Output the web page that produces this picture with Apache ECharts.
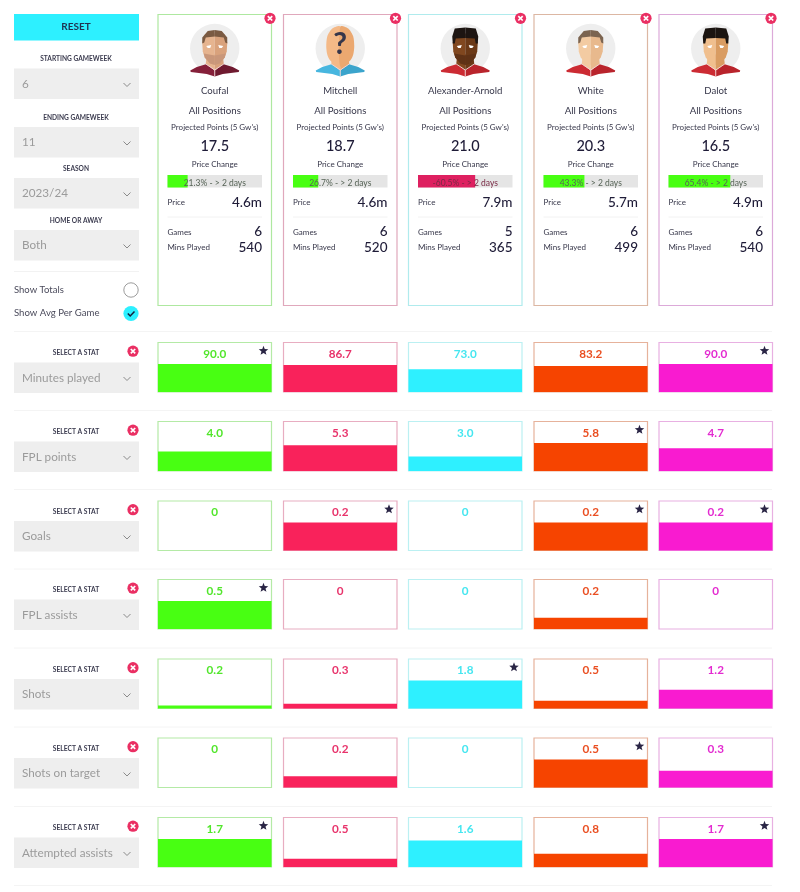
<!DOCTYPE html>
<html>
<head>
<meta charset="utf-8">
<title>Player comparison</title>
<style>
  html, body { margin: 0; padding: 0; background: #fff; }
  #main { width: 800px; height: 892px; }
</style>
<script src="https://cdn.jsdelivr.net/npm/echarts@6/dist/echarts.min.js"></script>
</head>
<body>
<div id="main"></div>
<script>
// data
var players = ['Coufal', 'Mitchell', 'Alexander-Arnold', 'White', 'Dalot'];
var projected = ['17.5', '18.7', '21.0', '20.3', '16.5'];
var priceChange = [21.3, 26.7, -60.5, 43.3, 65.4];
var prices = ['4.6m', '4.6m', '7.9m', '5.7m', '4.9m'];
var games = [6, 6, 5, 6, 6];
var minsPlayed = [540, 520, 365, 499, 540];

var statNames = ['Minutes played', 'FPL points', 'Goals', 'FPL assists', 'Shots', 'Shots on target', 'Attempted assists'];
var minutesPlayed = [90.0, 86.7, 73.0, 83.2, 90.0];
var fplPoints = [4.0, 5.3, 3.0, 5.8, 4.7];
var goals = [0, 0.2, 0, 0.2, 0.2];
var fplAssists = [0.5, 0, 0, 0.2, 0];
var shots = [0.2, 0.3, 1.8, 0.5, 1.2];
var shotsOnTarget = [0, 0.2, 0, 0.5, 0.3];
var attemptedAssists = [1.7, 0.5, 1.6, 0.8, 1.7];
var statRows = [minutesPlayed, fplPoints, goals, fplAssists, shots, shotsOnTarget, attemptedAssists];

var filterLabels = ['STARTING GAMEWEEK', 'ENDING GAMEWEEK', 'SEASON', 'HOME OR AWAY'];
var filterValues = ['6', '11', '2023/24', 'Both'];

// layout and colours
var FONT = 'Lato, sans-serif';
var NAVY = '#2a2545';
var RED = '#ea2f63';
var colLeft = [158, 283.5, 408.5, 534, 659];
var colWidth = 113.5;
var rowTop = [342.5, 421.5, 501, 579.5, 659, 738, 817.5];
var rowHeight = 49.5;
var fillRatio = 0.568;   // the biggest value of a row fills this share of its cell

var barColors = ['#48ff12', '#f9225b', '#2ef0ff', '#f64400', '#f91bd0'];
var textColors = ['#52e62c', '#e8336b', '#45e6f0', '#ea4f22', '#e32bd0'];
var cellBorders = ['#b4eaa6', '#e8adc1', '#bbf0f2', '#e6b29b', '#e8b0e2'];
var cardBorders = ['#aee8a0', '#e0a8bc', '#b0ebed', '#dcb7a3', '#dcaad9'];

var avatars = [
  { skin: '#e6b48f', shade: '#d9a27c', hair: '#7a5a42', beard: '#c9977a', shirt: '#85203a', shirt2: '#6f1a30', head: 'short' },
  { skin: '#f4b987', shade: '#eba870', hair: null, shirt: '#47b6df', shirt2: '#3ba4cc', head: 'unknown' },
  { skin: '#80471f', shade: '#6b3917', hair: '#1d1512', beard: '#5f3216', shirt: '#cc2b33', shirt2: '#b9242c', head: 'flat' },
  { skin: '#f3cba2', shade: '#e8b98d', hair: '#7b6450', shirt: '#cc2b33', shirt2: '#b9242c', head: 'short' },
  { skin: '#f0bf8e', shade: '#d99c62', hair: '#1b1410', shirt: '#cc2b33', shirt2: '#b9242c', head: 'flat' }
];

var graphics = [];

function txt(str, x, y, size, color, align, weight) {
  graphics.push({
    type: 'text', silent: true, z: 10,
    style: {
      text: str, x: x, y: y, fill: color,
      font: (weight || 'normal') + ' ' + size + 'px ' + FONT,
      textAlign: align || 'center', textVerticalAlign: 'middle'
    }
  });
}

function box(x, y, w, h, fill, stroke, lw) {
  graphics.push({
    type: 'rect', silent: true, z: 0,
    shape: { x: x, y: y, width: w, height: h },
    style: { fill: fill || 'none', stroke: stroke || 'none', lineWidth: lw || 0 }
  });
}

function hline(y, x1, x2, color) {
  graphics.push({
    type: 'line', silent: true, z: 0,
    shape: { x1: x1, y1: y, x2: x2, y2: y },
    style: { stroke: color, lineWidth: 1 }
  });
}

function poly(points, fill, z, smooth) {
  graphics.push({
    type: 'polygon', silent: true, z: z || 5,
    shape: { points: points, smooth: smooth || 0 },
    style: { fill: fill }
  });
}

function stroked(points, color, lw, z) {
  graphics.push({
    type: 'polyline', silent: true, z: z || 5,
    shape: { points: points },
    style: { stroke: color, lineWidth: lw, fill: 'none' }
  });
}

function disc(x, y, r, fill, stroke, lw, z) {
  graphics.push({
    type: 'circle', silent: true, z: z || 5,
    shape: { cx: x, cy: y, r: r },
    style: { fill: fill, stroke: stroke || 'none', lineWidth: lw || 0 }
  });
}

function closeIcon(x, y) {
  disc(x, y, 5.6, RED, null, 0, 6);
  stroked([[x - 2.2, y - 2.2], [x + 2.2, y + 2.2]], '#fff', 1.7, 7);
  stroked([[x + 2.2, y - 2.2], [x - 2.2, y + 2.2]], '#fff', 1.7, 7);
}

function dropdown(y, value) {
  box(14, y, 125, 30.5, '#eeeeee');
  txt(value, 22, y + 15.5, 11.7, '#9b9b9b', 'left');
  stroked([[123.5, y + 14.5], [127, y + 18], [130.5, y + 14.5]], '#8a8a8a', 1, 5);
}

function star(cx, cy) {
  var pts = [];
  for (var i = 0; i < 10; i++) {
    var r = i % 2 === 0 ? 5 : 2.1;
    var a = -Math.PI / 2 + i * Math.PI / 5;
    pts.push([cx + r * Math.cos(a), cy + r * Math.sin(a)]);
  }
  poly(pts, NAVY, 11);
}

function mirror(points, cx, cy, flip) {
  return points.map(function(p) {
    return [cx + (flip ? -p[0] : p[0]), cy + p[1]];
  });
}

// flat two tone face, left half then right half
function avatar(cx, cy, a) {
  disc(cx, cy, 24.7, '#eeeeee', null, 0, 1);
  var shirt = [[0, 22], [-8, 15.5], [-18, 18.5], [-24.5, 22], [-24, 23.5], [-8, 25.5], [0, 28]];
  poly(mirror(shirt, cx, cy, false), a.shirt, 2);
  poly(mirror(shirt, cx, cy, true), a.shirt2, 2);
  poly(mirror([[0, 22], [-9, 15.5], [-8, 6], [0, 6]], cx, cy, false), a.skin, 3);
  poly(mirror([[0, 22], [-9, 15.5], [-8, 6], [0, 6]], cx, cy, true), a.shade, 3);
  stroked(mirror([[-9, 15.5], [0, 21.5], [0, 28]], cx, cy, false), '#f0d5d5', 0.9, 4);
  stroked(mirror([[-9, 15.5], [0, 21.5]], cx, cy, true), '#f0d5d5', 0.9, 4);

  if (a.head === 'unknown') {
    var bald = [[0, -22], [-8, -20], [-13, -12], [-14, -2], [-13, 6], [-10, 12], [0, 18]];
    poly(mirror(bald, cx, cy, false), a.skin, 4, 0.25);
    poly(mirror(bald, cx, cy, true), a.shade, 4, 0.25);
    txt('?', cx, cy - 4, 30, '#36364a', 'center', 'bold');
    return;
  }
  var face = [[0, -15], [-10, -14], [-12.5, -6], [-12, 3], [-10, 9], [-5, 15], [0, 16.5]];
  poly(mirror(face, cx, cy, false), a.skin, 4);
  poly(mirror(face, cx, cy, true), a.shade, 4);
  if (a.beard) {
    var jaw = [[0, 7], [-11, 5], [-10, 9], [-5, 15], [0, 16.5]];
    poly(mirror(jaw, cx, cy, false), a.beard, 5);
    poly(mirror(jaw, cx, cy, true), a.beard, 5);
  }
  var hair = a.head === 'flat'
    ? [[0, -21], [-10.5, -20], [-13, -12], [-12.5, -5], [-10.5, -5], [-9.5, -10], [0, -10.5]]
    : [[0, -18.5], [-7, -17.5], [-12.5, -11], [-12.5, -5], [-10.5, -6], [-9, -11], [0, -12]];
  poly(mirror(hair, cx, cy, false), a.hair, 6);
  poly(mirror(hair, cx, cy, true), a.hair, 6);
  poly(mirror([[-8.5, -2.5], [-3.5, -3.5], [-4.5, -0.5], [-7, -0.5]], cx, cy, false), '#ffffff', 6);
  poly(mirror([[-8.5, -2.5], [-3.5, -3.5], [-4.5, -0.5], [-7, -0.5]], cx, cy, true), '#ffffff', 6);
}

// left panel
box(14, 14, 125, 26.5, '#2df0ff');
txt('RESET', 76, 27, 10, '#1f3350', 'center', 'bold');
var filterLabelY = [59, 117.5, 169, 220.5];
var filterBoxY = [68.5, 127, 178, 230];
filterLabels.forEach(function(label, i) {
  txt(label, 76, filterLabelY[i], 6.6, '#3b3b4f', 'center', 'bold');
  dropdown(filterBoxY[i], filterValues[i]);
});
hline(271.5, 14, 139, '#f2f2f2');
txt('Show Totals', 14, 289.5, 9.5, '#4b4b5c', 'left');
disc(131, 290, 7.2, '#fff', '#9c9c9c', 1);
txt('Show Avg Per Game', 14, 312.5, 9.6, '#4b4b5c', 'left');
disc(131, 313.5, 7.6, '#2df0ff');
stroked([[127.8, 313.5], [130.2, 316], [134.5, 311.5]], '#15203a', 1.5, 6);

// separators between the stat rows
[331.5, 410.5, 489.5, 569, 648, 727, 806.5, 885.5].forEach(function(y) {
  hline(y, 14, 772, '#f4f4f4');
});

// player cards
players.forEach(function(name, i) {
  var left = colLeft[i], right = left + colWidth, mid = left + colWidth / 2;
  var inL = left + 9.5, inR = right - 9.5;
  box(left, 14.5, colWidth, 291, 'none', cardBorders[i], 1.2);
  closeIcon(right - 1.5, 18.3);
  avatar(mid, 48.5, avatars[i]);
  txt(name, mid, 91, 9.6, '#37374a');
  txt('All Positions', mid, 110.5, 9.7, '#37374a');
  txt("Projected Points (5 Gw's)", mid, 127.5, 8, '#37374a');
  txt(projected[i], mid, 146, 14.5, '#1f1c38', 'center', '500');
  txt('Price Change', mid, 164.5, 8, '#37374a');
  txt(priceChange[i] + '% - > 2 days', mid, 183, 8.5, pctColor(priceChange[i]));
  txt('Price', inL, 202, 8, '#37374a', 'left');
  txt(prices[i], inR, 202.5, 13.5, '#1f1c38', 'right', '500');
  hline(217, inL, inR, '#f2f2f2');
  txt('Games', inL, 232, 8, '#37374a', 'left');
  txt(String(games[i]), inR, 232, 13.5, '#1f1c38', 'right', '500');
  txt('Mins Played', inL, 247, 8, '#37374a', 'left');
  txt(String(minsPlayed[i]), inR, 247.5, 13.5, '#1f1c38', 'right', '500');
});

function pctColor(pct) {
  return pct < 0 ? '#7a2a45' : '#566356';
}

// charts: one small grid for each bar
var grids = [], xAxes = [], yAxes = [], series = [];

function addCell(gridOpt, xAxis, yAxis, value, color) {
  var idx = grids.length;
  grids.push(gridOpt);
  xAxis.gridIndex = idx; xAxis.show = false;
  yAxis.gridIndex = idx; yAxis.show = false;
  xAxes.push(xAxis);
  yAxes.push(yAxis);
  series.push({
    type: 'bar', xAxisIndex: idx, yAxisIndex: idx,
    data: [value], barWidth: '100%', silent: true,
    itemStyle: { color: color }
  });
}

priceChange.forEach(function(pct, i) {
  addCell(
    { left: colLeft[i] + 9.5, top: 175, width: colWidth - 19, height: 12.5, show: true, backgroundColor: '#e5e5e5', borderWidth: 0 },
    { type: 'value', min: 0, max: 100 },
    { type: 'category', data: [players[i]] },
    Math.abs(pct),
    pct < 0 ? '#de2060' : barColors[0]
  );
});

statRows.forEach(function(row, r) {
  var best = Math.max.apply(null, row);
  var top = rowTop[r];

  txt('SELECT A STAT', 76, top + 10.5, 6.7, '#3b3b4f', 'center', 'bold');
  closeIcon(133, top + 8.7);
  dropdown(top + 20, statNames[r]);

  row.forEach(function(v, i) {
    addCell(
      { left: colLeft[i], top: top, width: colWidth, height: rowHeight, show: true, backgroundColor: '#fff', borderColor: cellBorders[i], borderWidth: 1.2 },
      { type: 'category', data: [players[i]] },
      { type: 'value', min: 0, max: best / fillRatio },
      v,
      barColors[i]
    );
    txt(v === 0 ? '0' : v.toFixed(1), colLeft[i] + colWidth / 2, top + 11.5, 11.7, textColors[i], 'center', 'bold');
    if (v === best) {
      star(colLeft[i] + colWidth - 8, top + 8.3);
    }
  });
});

var myChart = echarts.init(document.getElementById('main'));
myChart.setOption({
  animation: false,
  backgroundColor: '#fff',
  grid: grids,
  xAxis: xAxes,
  yAxis: yAxes,
  series: series,
  graphic: { elements: graphics }
});
</script>
</body>
</html>
